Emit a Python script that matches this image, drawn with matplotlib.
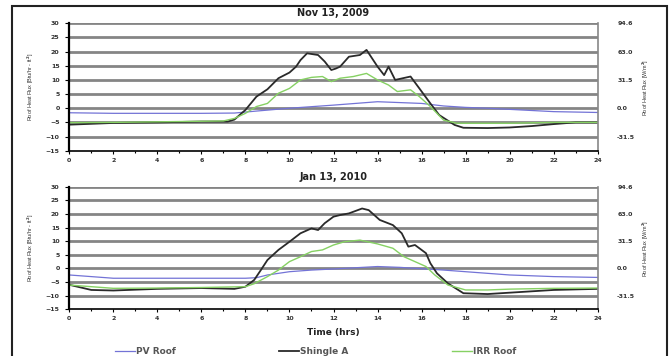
import numpy as np
import matplotlib
matplotlib.use('Agg')
import matplotlib.pyplot as plt
from matplotlib.patches import Rectangle

plt.rcParams['font.family'] = ['DejaVu Sans']
plt.rcParams['font.weight'] = 'bold'

# Nov 13, 2009
nov_pv_hr = [0, 2, 4, 6, 7.5, 8.5, 10, 12, 14, 16, 17, 18, 19, 20, 22, 24]
nov_pv = [-1.6, -1.8, -1.8, -1.8, -1.7, -1.0, 0.0, 1.1, 2.3, 1.7, 0.8, 0.3, 0.0, -0.4, -1.2, -1.5]
nov_sh_hr = [0, 1, 2, 4, 6, 7.2, 7.5, 8, 8.5, 9, 9.5, 10, 10.3, 10.5, 10.8, 11.3, 11.6, 11.9,
             12.1, 12.3, 12.7, 13.2, 13.5, 14, 14.3, 14.5, 14.8, 15.5, 15.9, 16.4, 16.8, 17.5,
             17.9, 19, 20, 21, 22, 23, 24]
nov_sh = [-5.8, -5.5, -5.2, -5.0, -4.7, -4.7, -4.0, -0.6, 4.1, 6.7, 10.6, 12.6, 14.7, 17.0, 19.4,
          18.8, 16.5, 13.5, 14.0, 14.7, 18.2, 18.8, 20.6, 14.7, 11.7, 14.7, 10.0, 11.2, 7.0, 1.7,
          -2.4, -5.9, -6.9, -7.0, -6.8, -6.3, -5.6, -5.0, -5.0]
nov_irr_hr = [0, 2, 4, 6, 7, 7.5, 8, 8.5, 9, 9.5, 10, 10.5, 11, 11.5, 11.9, 12.1, 12.3, 12.9,
              13.5, 14, 14.5, 14.9, 15.5, 15.9, 16.4, 17, 17.6, 18, 20, 22, 24]
nov_irr = [-5.1, -5.0, -4.8, -4.6, -4.5, -3.6, -1.8, 0.6, 1.7, 5.3, 7.0, 10.0, 10.9, 11.2, 9.4,
           10.0, 10.6, 11.2, 12.3, 10.0, 8.2, 5.9, 6.5, 4.1, 0.6, -4.2, -5.3, -5.3, -5.3, -5.0, -5.0]

# Jan 13, 2010
jan_pv_hr = [0, 1, 2, 4, 6, 8, 8.5, 9, 10, 11, 12, 14, 15, 16, 17, 18, 19, 20, 22, 24]
jan_pv = [-2.4, -3.0, -3.6, -3.6, -3.6, -3.6, -3.4, -2.4, -1.2, -0.6, -0.2, 0.7, 0.4, -0.1,
          -0.6, -1.2, -1.8, -2.4, -3.0, -3.3]
jan_sh_hr = [0, 1, 2, 4, 6, 7.5, 8, 8.4, 8.7, 9, 9.5, 10, 10.5, 11, 11.3, 11.6, 12, 12.3, 12.7,
             13.3, 13.6, 14.1, 14.7, 15.1, 15.4, 15.7, 16.2, 16.4, 16.7, 17.2, 17.9, 19, 20, 22, 24]
jan_sh = [-6.0, -7.9, -8.1, -7.5, -7.2, -7.5, -6.7, -4.2, -0.6, 3.1, 6.8, 9.8, 12.9, 14.7, 14.1,
          16.6, 19.0, 19.6, 20.2, 22.0, 21.4, 17.8, 15.9, 12.9, 8.0, 8.6, 5.6, 1.9, -1.8, -5.5,
          -9.1, -9.4, -8.9, -7.9, -7.5]
jan_irr_hr = [0, 1, 2, 4, 6, 8, 8.4, 9, 9.5, 10, 10.5, 11, 11.5, 12, 12.5, 13.2, 14, 14.7, 15.2,
              15.7, 16.2, 16.6, 17.2, 18, 19, 20, 22, 24]
jan_irr = [-6.1, -6.7, -7.3, -7.2, -7.0, -6.7, -5.6, -3.0, -0.6, 2.5, 4.3, 6.2, 6.8, 8.6, 9.8,
           10.4, 9.0, 7.4, 4.3, 2.5, 0.7, -2.4, -6.1, -7.9, -7.9, -7.6, -7.3, -7.2]

titles = ['Nov 13, 2009', 'Jan 13, 2010']
right_ticks = [30, 20, 10, 0, -10]
right_labels = ['94.6', '63.0', '31.5', '0.0', '-31.5']

panels = [
    (nov_pv_hr, nov_pv, nov_sh_hr, nov_sh, nov_irr_hr, nov_irr),
    (jan_pv_hr, jan_pv, jan_sh_hr, jan_sh, jan_irr_hr, jan_irr),
]

W, H = 669, 356
fig = plt.figure(figsize=(W / 100, H / 100), dpi=100)
fig.patches.append(Rectangle((12 / W, -0.01), 655 / W, 1 - 6 / H + 0.01,
                             transform=fig.transFigure, fill=False, ec='#222222', lw=1.5))

boxes = [(69.3, 23.3, 597.7, 150.7), (69.3, 186.7, 597.7, 309.3)]
narrow = ['Liberation Sans', 'DejaVu Sans']

for i, (box, data) in enumerate(zip(boxes, panels)):
    x0, y0, x1, y1 = box
    ax = fig.add_axes([x0 / W, 1 - y1 / H, (x1 - x0) / W, (y1 - y0) / H])
    pvh, pv, shh, sh, irh, ir = data
    l1, = ax.plot(pvh, pv, color='#7373d6', lw=0.9, label='PV Roof')
    l2, = ax.plot(shh, sh, color='#2a2a2a', lw=1.3, label='Shingle A')
    l3, = ax.plot(irh, ir, color='#86d163', lw=1.0, label='IRR Roof')
    ax.set_xlim(0, 24)
    ax.set_ylim(-15, 30)
    ax.set_yticks(np.arange(-15, 31, 5))
    ax.set_xticks(np.arange(0, 25, 2))
    ax.set_xticks(np.arange(0, 25, 1), minor=True)
    for y in np.arange(-10, 31, 5):
        ax.axhline(y, color='#858585', lw=2.0, zorder=0)
    ax.tick_params(labelsize=4.5, width=0.8, labelcolor='#333333')
    ax.tick_params(axis='y', length=3, pad=4)
    ax.tick_params(axis='x', length=2, pad=3)
    ax.tick_params(which='minor', length=1.5, width=0.8)
    ax.spines['left'].set_linewidth(1.6)
    ax.spines['bottom'].set_linewidth(1.2)
    ax.spines['top'].set_visible(False)
    ax.spines['right'].set_color('#888888')
    ax.spines['right'].set_linewidth(1.2)
    ax.set_title(titles[i], fontsize=7, fontweight='bold', pad=5, color='#222222')
    ax.set_ylabel('Roof Heat Flux [Btu/hr - ft$^2$]', fontsize=4, labelpad=7, family=narrow,
                  color='#333333')

    ax2 = ax.twinx()
    ax2.set_ylim(-15, 30)
    ax2.set_yticks(right_ticks)
    ax2.set_yticklabels(right_labels)
    ax2.tick_params(labelsize=4.5, length=0, pad=14, labelcolor='#333333')
    for s in ax2.spines.values():
        s.set_visible(False)
    ax2.set_ylabel('Roof Heat Flux [W/m$^2$]', fontsize=4, labelpad=4, family=narrow,
                   color='#333333')

    if i == 1:
        ax.set_xlabel('Time (hrs)', fontsize=6.5, fontweight='bold', labelpad=5, color='#222222')

leg = fig.legend([l1, l2, l3], ['PV Roof', 'Shingle A', 'IRR Roof'], loc='center left',
                 bbox_to_anchor=(115 / W, 1 - 352 / H), ncol=3, frameon=False, fontsize=6.5,
                 handlelength=2.2, columnspacing=11.5, handletextpad=0.1, borderpad=0,
                 borderaxespad=0)
for t in leg.get_texts():
    t.set_color('#555555')

fig.savefig('out.png', dpi=100)
